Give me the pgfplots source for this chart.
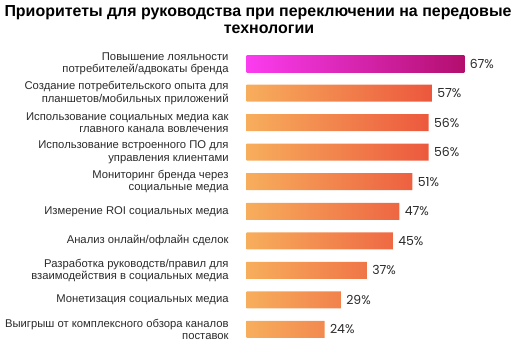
\documentclass[border=0pt]{standalone}
\usepackage{fontspec}
\setmainfont{Liberation Sans}
\newfontfamily\numfont{Poppins}
\usepackage{pgfplots}
\pgfplotsset{compat=1.18}
\definecolor{olight}{HTML}{F7AE5C}
\definecolor{odark}{HTML}{EC573D}
\definecolor{plight}{HTML}{FB3CF0}
\definecolor{pdark}{HTML}{B30E6E}
\definecolor{lbl}{HTML}{2A2A2A}
\begin{document}
\begin{tikzpicture}[x=1bp,y=1bp]
\useasboundingbox (0,0) rectangle (516,353);
\node[font=\bfseries\fontsize{16}{16}\selectfont, anchor=base] at (258,336.3) {Приоритеты для руководства при переключении на передовые};
\node[font=\bfseries\fontsize{16}{16}\selectfont, anchor=base] at (269,319.7) {технологии};
\begin{axis}[
  at={(246.5bp,8.75bp)}, anchor=south west,
  scale only axis, width=260bp, height=295.5bp,
  xmin=0, xmax=80, ymin=-0.5, ymax=9.5, y dir=reverse,
  xbar, bar width=17bp, bar shift=0pt,
  axis line style={draw=none}, tick style={draw=none},
  xtick=\empty,
  ytick={0,...,9},
  yticklabels={
    {Повышение лояльности\\потребителей/адвокаты бренда},
    {Создание потребительского опыта для\\планшетов/мобильных приложений},
    {Использование социальных медиа как\\главного канала вовлечения},
    {Использование встроенного ПО для\\управления клиентами},
    {Мониторинг бренда через\\социальные медиа},
    {Измерение ROI социальных медиа},
    {Анализ онлайн/офлайн сделок},
    {Разработка руководств/правил для\\взаимодействия в социальных медиа},
    {Монетизация социальных медиа},
    {Выигрыш от комплексного обзора каналов\\поставок}},
  yticklabel style={align=right, inner sep=0pt, xshift=-13.5bp, text=lbl,
    font=\fontsize{11.3}{12.2}\selectfont},
  /pgf/number format/assume math mode=true,
  point meta=x,
  nodes near coords={\pgfmathprintnumber{\pgfplotspointmeta}\%},
  every node near coord/.append style={anchor=west, xshift=2bp, text=lbl,
    font=\numfont\fontsize{12.5}{12.5}\selectfont},
]
\addplot[draw=none, left color=plight, right color=pdark] coordinates {(67,0)};
\addplot[draw=none, left color=olight, right color=odark] coordinates {
(57,1) (56,2) (56,3) (51,4) (47,5) (45,6) (37,7) (29,8) (24,9)};
\end{axis}
\end{tikzpicture}
\end{document}
